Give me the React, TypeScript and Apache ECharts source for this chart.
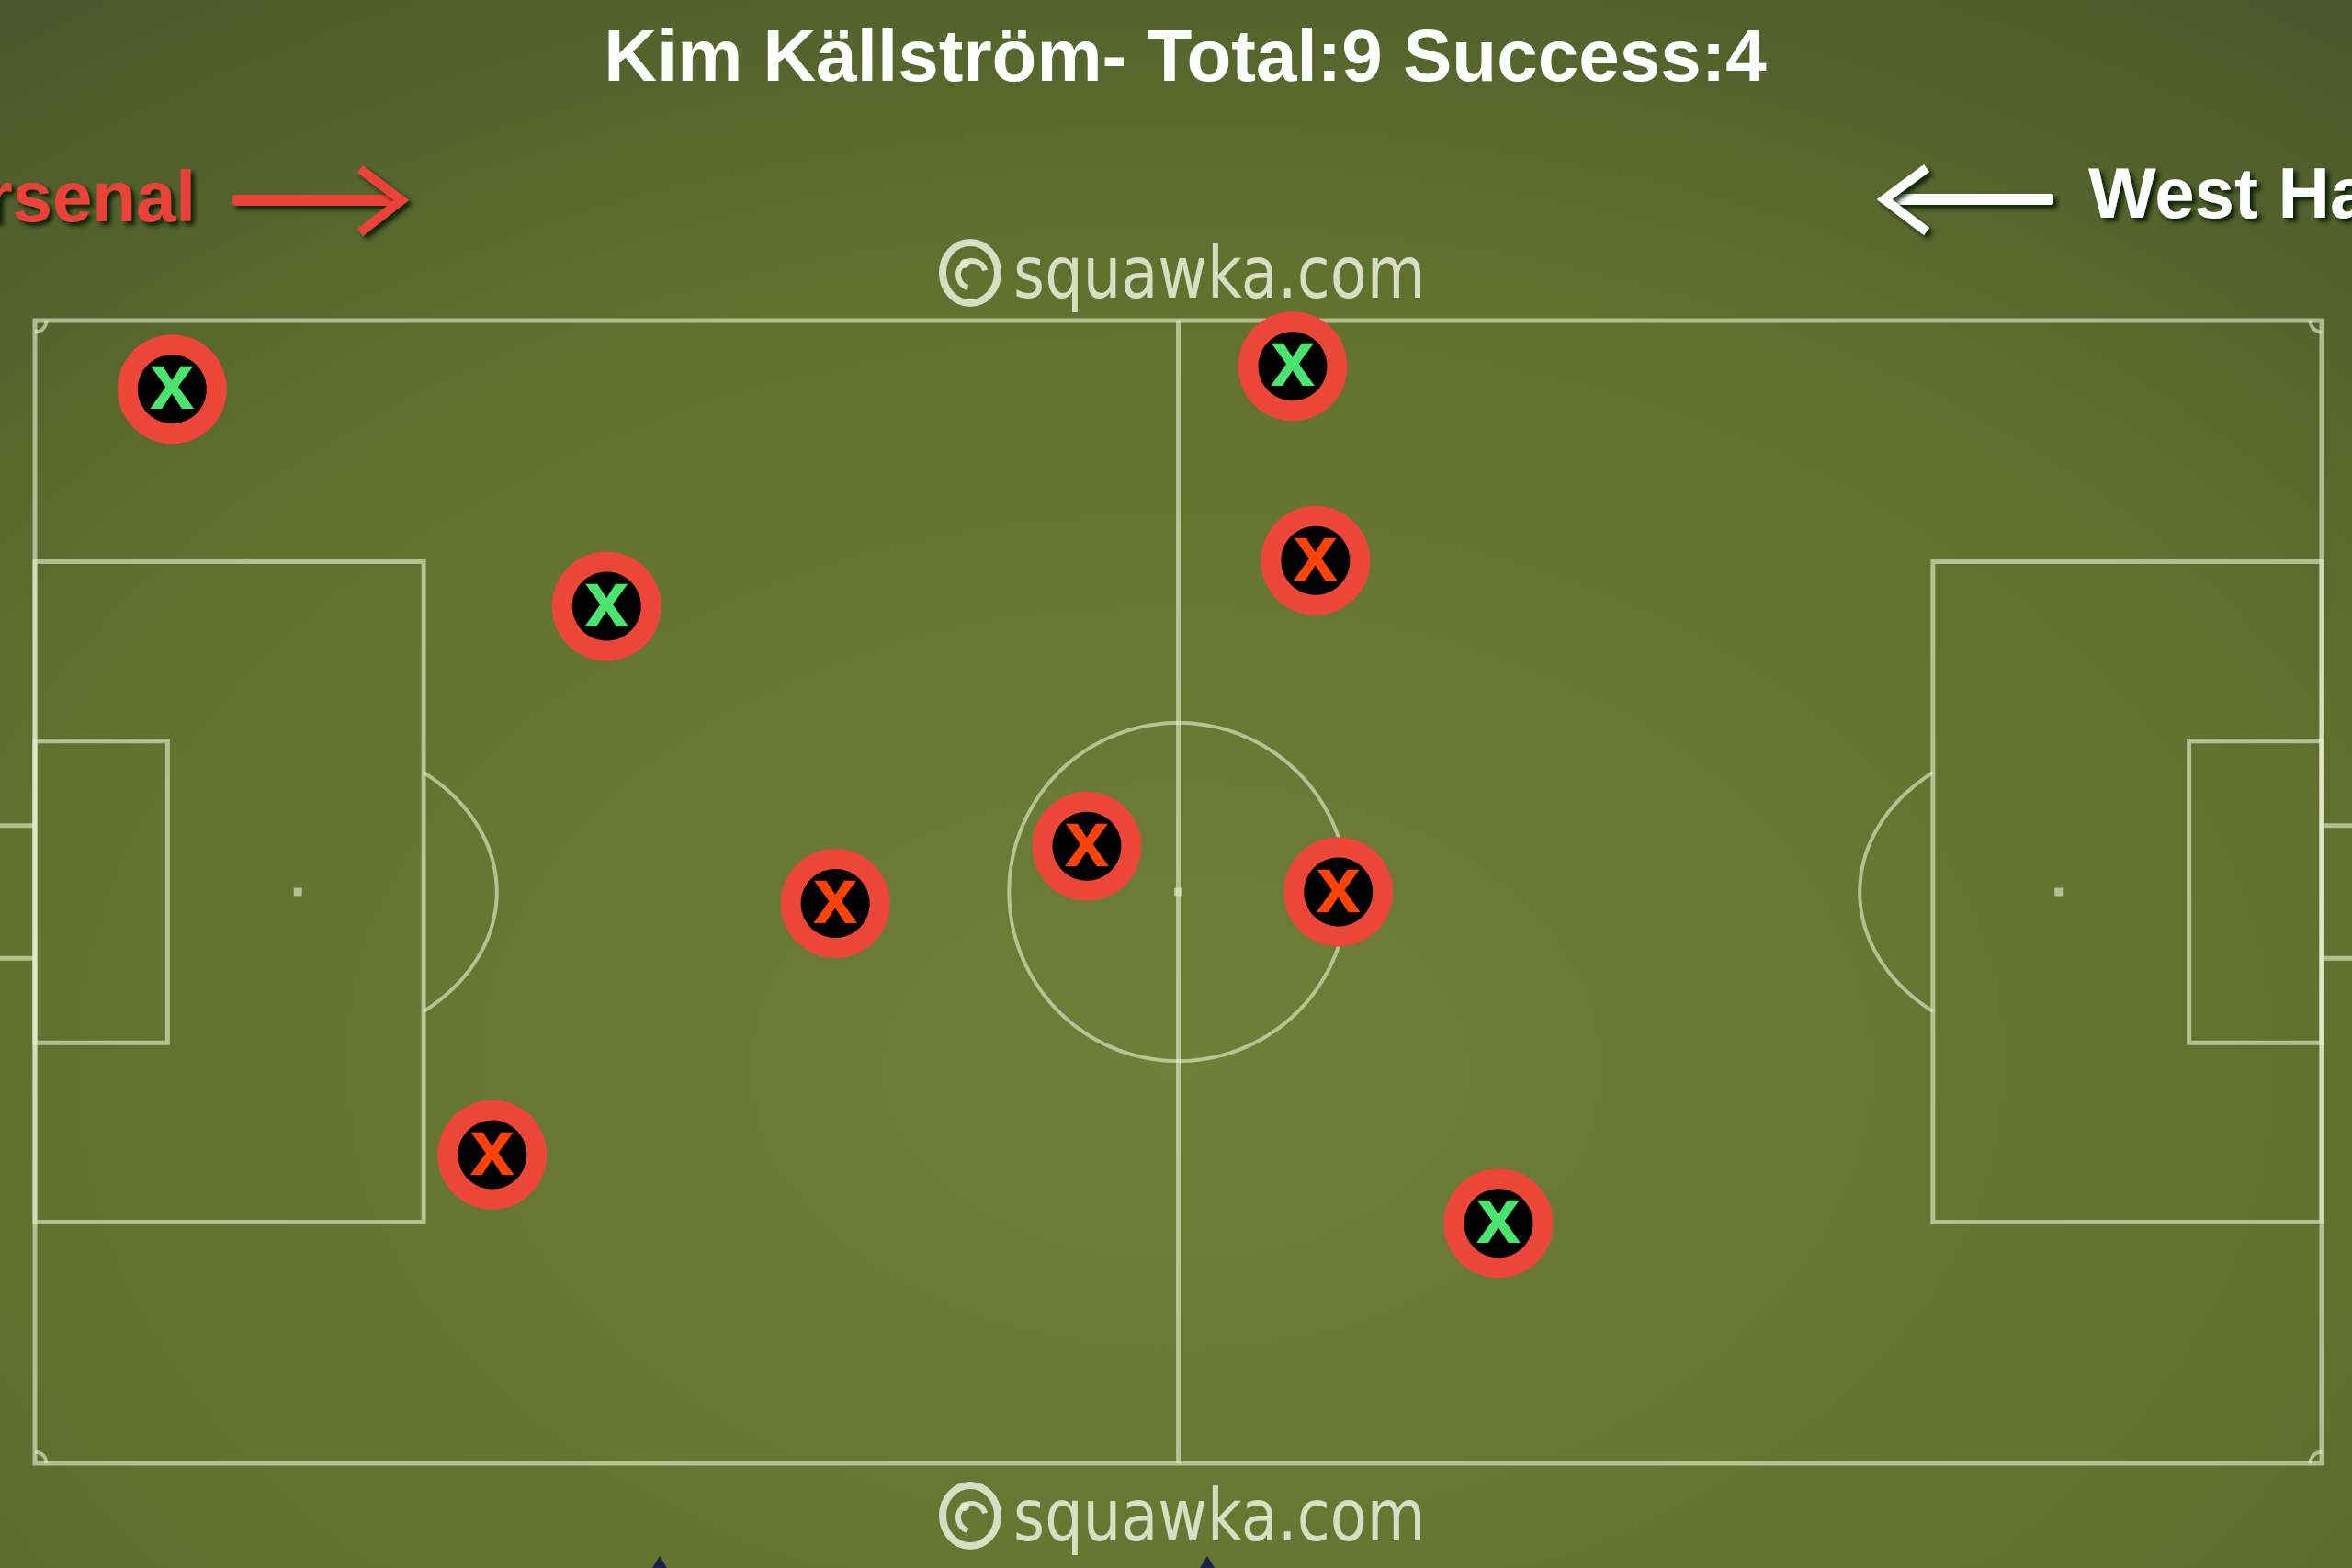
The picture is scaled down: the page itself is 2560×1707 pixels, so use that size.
import React, { useEffect, useRef } from "react";
import * as echarts from "echarts";

// ---- content ----
const playerName = "Kim Källström";
const homeTeam = "Arsenal";
const awayTeam = "West Ham";
const watermark = "squawka.com";

// pass positions (0-100 pitch units, x from left, y from top)
const passX = [6, 25, 55, 56, 46, 35, 57, 20, 64];
const passY = [6, 25, 4, 21, 46, 51, 50, 73, 79];
const passSuccess = [true, true, true, false, false, false, false, false, true];

// pitch markings (0-100 units)
const pitchBoxes = [
  [0, 0, 100, 100],
  [0, 21.1, 17, 78.9],
  [0, 36.8, 5.8, 63.2],
  [83, 21.1, 100, 78.9],
  [94.2, 36.8, 100, 63.2],
];
const goals = [
  [0, 44.2, -2, 55.8],
  [100, 44.2, 102, 55.8],
];
const spots = [
  [11.5, 50],
  [50, 50],
  [88.5, 50],
];

const LINE = "rgba(232,238,208,0.62)";
const RING = "#ec4639";
const GOOD = "#4ae46e";
const BAD = "#ff4306";
const LOGO = "rgba(232,236,218,0.88)";

function ellipsePts(cx: number, cy: number, rx: number, ry: number, a0: number, a1: number, n = 90) {
  const pts: number[][] = [];
  for (let i = 0; i <= n; i++) {
    const a = a0 + ((a1 - a0) * i) / n;
    pts.push([cx + rx * Math.cos(a), cy + ry * Math.sin(a)]);
  }
  return pts;
}

export default function App() {
  const ref = useRef<HTMLDivElement>(null);

  useEffect(() => {
    if (!ref.current) return;
    const chart = echarts.init(ref.current, undefined, { renderer: "svg" });
    const total = passX.length;
    const success = passSuccess.filter(Boolean).length;

    const scatterData = passX.map((x, i) => ({
      value: [x, passY[i]],
      label: { color: passSuccess[i] ? GOOD : BAD },
    }));

    const logo = (cy: number) => [
      {
        type: "ellipse",
        shape: { cx: 1056, cy, rx: 30, ry: 33 },
        style: { fill: "none", stroke: LOGO, lineWidth: 8 },
        z: 5,
      },
      {
        type: "arc",
        shape: { cx: 1058, cy: cy + 2, r: 15, startAngle: Math.PI * 0.6, endAngle: Math.PI * 1.9 },
        style: { fill: "none", stroke: LOGO, lineWidth: 6 },
        z: 5,
      },
      {
        type: "circle",
        shape: { cx: 1050, cy: cy - 10, r: 5 },
        style: { fill: LOGO },
        z: 5,
      },
      {
        type: "text",
        x: 1103,
        y: cy,
        scaleX: 0.84,
        style: {
          text: watermark,
          fill: LOGO,
          font: '78px "DejaVu Sans"',
          align: "left",
          verticalAlign: "middle",
        },
        z: 5,
      },
    ];

    const shadow = {
      shadowColor: "rgba(0,20,0,0.85)",
      shadowBlur: 5,
      shadowOffsetX: 4,
      shadowOffsetY: 4,
    };

    chart.setOption({
      animation: false,
      backgroundColor: {
        type: "radial",
        x: 0.5,
        y: 0.68,
        r: 0.9,
        colorStops: [
          { offset: 0, color: "#6f7f38" },
          { offset: 0.55, color: "#62722e" },
          { offset: 1, color: "#44522a" },
        ],
      },
      grid: { left: 38, top: 349, width: 2489, height: 1244 },
      xAxis: { type: "value", min: 0, max: 100, show: false },
      yAxis: { type: "value", min: 0, max: 100, inverse: true, show: false },
      series: [
        {
          type: "custom",
          data: [[50, 50]],
          clip: false,
          silent: true,
          z: 1,
          renderItem: (_p: any, api: any) => {
            const c = (x: number, y: number) => api.coord([x, y]);
            const children: any[] = [];
            const st = { stroke: LINE, lineWidth: 5, fill: "none" };
            const thin = { stroke: LINE, lineWidth: 4, fill: "none" };
            pitchBoxes.forEach(([x0, y0, x1, y1]) => {
              children.push({
                type: "polygon",
                shape: { points: [c(x0, y0), c(x1, y0), c(x1, y1), c(x0, y1)] },
                style: st,
              });
            });
            goals.forEach(([x0, y0, x1, y1]) => {
              children.push({
                type: "polyline",
                shape: { points: [c(x0, y0), c(x1, y0), c(x1, y1), c(x0, y1)] },
                style: st,
              });
            });
            children.push({
              type: "polyline",
              shape: { points: [c(50, 0), c(50, 100)] },
              style: st,
            });
            // centre circle
            children.push({
              type: "polyline",
              shape: { points: ellipsePts(50, 50, 7.4, 14.8, 0, Math.PI * 2, 180).map((p) => c(p[0], p[1])) },
              style: thin,
            });
            // penalty arcs
            const a = Math.acos(5.5 / 8.7);
            children.push({
              type: "polyline",
              shape: { points: ellipsePts(11.5, 50, 8.7, 13.5, -a, a, 60).map((p) => c(p[0], p[1])) },
              style: thin,
            });
            children.push({
              type: "polyline",
              shape: { points: ellipsePts(88.5, 50, 8.7, 13.5, Math.PI - a, Math.PI + a, 60).map((p) => c(p[0], p[1])) },
              style: thin,
            });
            // corner arcs
            const corners = [
              [0, 0, 0],
              [100, 0, 0.5],
              [100, 100, 1],
              [0, 100, 1.5],
            ];
            corners.forEach(([cx, cy, s]) => {
              children.push({
                type: "polyline",
                shape: {
                  points: ellipsePts(cx, cy, 0.5, 1.0, Math.PI * s, Math.PI * (s + 0.5), 12).map((p) => c(p[0], p[1])),
                },
                style: thin,
              });
            });
            spots.forEach(([x, y]) => {
              const p = c(x, y);
              children.push({
                type: "rect",
                shape: { x: p[0] - 4.5, y: p[1] - 4.5, width: 9, height: 9 },
                style: { fill: LINE },
              });
            });
            return { type: "group", children };
          },
        },
        {
          type: "scatter",
          data: scatterData,
          symbol: "circle",
          symbolSize: 97,
          z: 3,
          itemStyle: { color: "#000", borderColor: RING, borderWidth: 22, opacity: 1 },
          label: {
            show: true,
            position: "inside",
            formatter: "x",
            fontFamily: '"Liberation Sans", Arial, sans-serif',
            fontWeight: "bold",
            fontSize: 88,
            offset: [0, -9],
          },
          emphasis: { disabled: true },
        },
      ],
      graphic: [
        {
          type: "text",
          x: 1290,
          y: 60,
          style: {
            text: `${playerName}- Total:${total} Success:${success}`,
            fill: "#ffffff",
            font: 'bold 80px "Liberation Sans", Arial, sans-serif',
            align: "center",
            verticalAlign: "middle",
          },
        },
        {
          type: "text",
          x: 213,
          y: 214,
          style: {
            text: homeTeam,
            fill: "#ea4237",
            font: 'bold 78px "Liberation Sans", Arial, sans-serif',
            align: "right",
            verticalAlign: "middle",
            textShadowColor: "rgba(0,25,0,0.9)",
            textShadowBlur: 5,
            textShadowOffsetX: 4,
            textShadowOffsetY: 4,
          },
        },
        {
          type: "rect",
          shape: { x: 253, y: 212, width: 178, height: 12, r: 3 },
          style: { fill: "#ea4237", ...shadow },
        },
        {
          type: "polyline",
          shape: { points: [[392, 184], [437, 218], [392, 253]] },
          style: { stroke: "#ea4237", lineWidth: 10, fill: "none", lineJoin: "miter", ...shadow },
        },
        {
          type: "text",
          x: 2273,
          y: 210,
          style: {
            text: awayTeam,
            fill: "#ffffff",
            font: 'bold 78px "Liberation Sans", Arial, sans-serif',
            align: "left",
            verticalAlign: "middle",
            textShadowColor: "rgba(0,25,0,0.9)",
            textShadowBlur: 5,
            textShadowOffsetX: 4,
            textShadowOffsetY: 4,
          },
        },
        {
          type: "rect",
          shape: { x: 2057, y: 211, width: 178, height: 12, r: 3 },
          style: { fill: "#ffffff", ...shadow },
        },
        {
          type: "polyline",
          shape: { points: [[2097, 183], [2051, 217], [2097, 252]] },
          style: { stroke: "#ffffff", lineWidth: 10, fill: "none", lineJoin: "miter", ...shadow },
        },
        ...logo(297),
        ...logo(1650),
        {
          type: "polygon",
          shape: { points: [[710, 1707], [718, 1694], [726, 1707]] },
          style: { fill: "#17234a" },
        },
        {
          type: "polygon",
          shape: { points: [[1306, 1707], [1314, 1694], [1322, 1707]] },
          style: { fill: "#17234a" },
        },
      ],
    });

    return () => chart.dispose();
  }, []);

  return (
    <div
      ref={ref}
      style={{ position: "fixed", left: 0, top: 0, width: 2560, height: 1707 }}
    />
  );
}
